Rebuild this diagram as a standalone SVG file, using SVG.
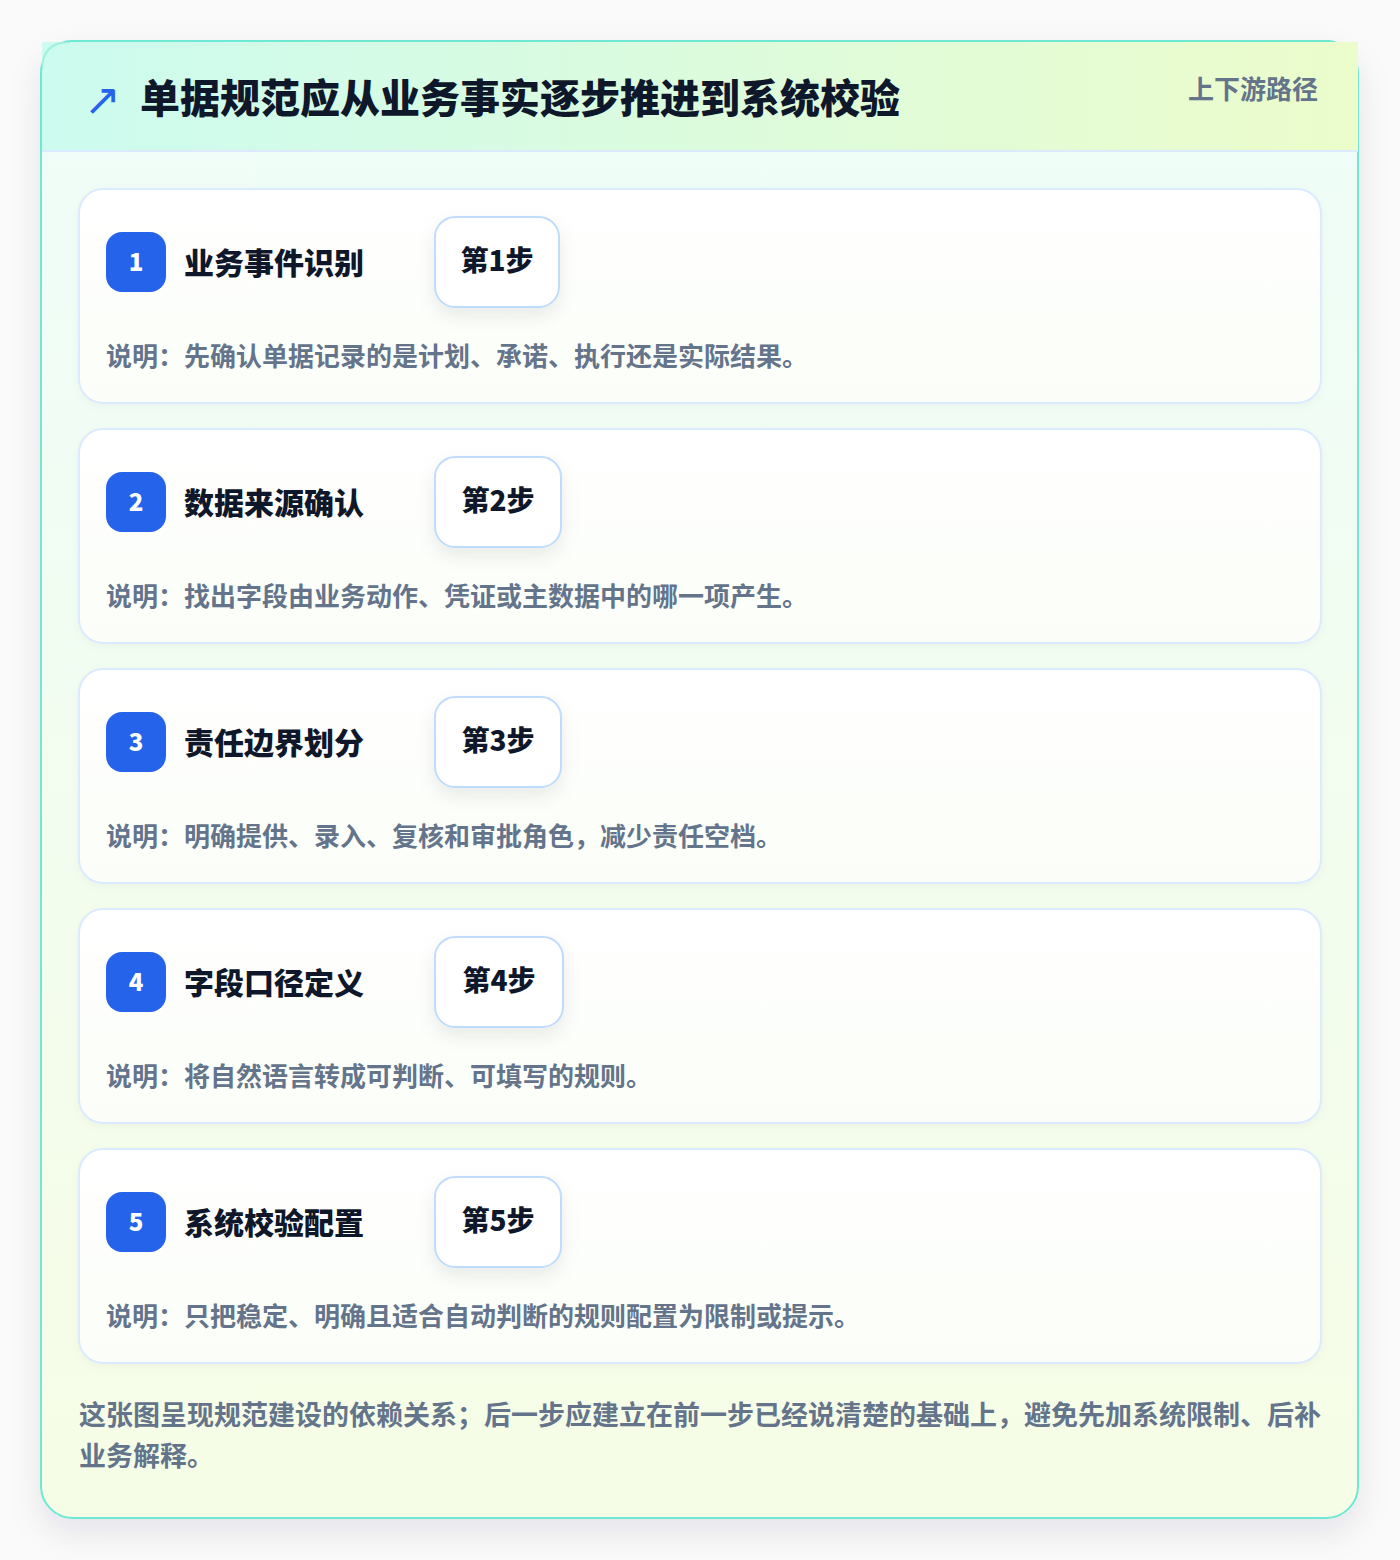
<svg xmlns="http://www.w3.org/2000/svg" width="1400" height="1560" viewBox="0 0 1400 1560">
  <defs>
    <linearGradient id="hdrGrad" x1="0" y1="0" x2="1" y2="0">
      <stop offset="0" stop-color="#ccfbef"/>
      <stop offset="1" stop-color="#ecfccb"/>
    </linearGradient>
    <linearGradient id="bodyGrad" x1="0" y1="0" x2="0" y2="1">
      <stop offset="0" stop-color="#effdf9"/>
      <stop offset="1" stop-color="#f6fde6"/>
    </linearGradient>
    <linearGradient id="cardGrad" x1="0" y1="0" x2="0" y2="1">
      <stop offset="0" stop-color="#ffffff"/>
      <stop offset="1" stop-color="#fbfef8"/>
    </linearGradient>
    <filter id="outerShadow" x="-10%" y="-10%" width="120%" height="120%">
      <feDropShadow dx="0" dy="14" stdDeviation="16" flood-color="#0f172a" flood-opacity="0.09"/>
    </filter>
    <filter id="pillShadow" x="-30%" y="-30%" width="160%" height="170%">
      <feDropShadow dx="0" dy="8" stdDeviation="9" flood-color="#0f172a" flood-opacity="0.08"/>
    </filter>
    <filter id="cardShadow" x="-5%" y="-10%" width="110%" height="130%">
      <feDropShadow dx="0" dy="3" stdDeviation="4" flood-color="#0f172a" flood-opacity="0.03"/>
    </filter>
  </defs>
  <style>
    .cjk { font-family: 'Noto Sans CJK SC', 'Noto Sans', 'Liberation Sans', sans-serif; font-weight: 700; }
    .heavy { font-weight: 800; }
    .title { font-size: 40px; fill: #0f172a; }
    .tag { font-size: 26px; fill: #64748b; }
    .card { fill: url(#cardGrad); stroke: #dbeafe; stroke-width: 2; }
    .badge { fill: #2563eb; }
    .num { font-size: 24px; fill: #ffffff; text-anchor: middle; }
    .ctitle { font-size: 30px; fill: #0f172a; }
    .pill { fill: #ffffff; stroke: #bfdbfe; stroke-width: 2; }
    .step { font-size: 28px; fill: #0f172a; text-anchor: middle; }
    .desc { font-size: 26px; fill: #64748b; }
    .foot { font-size: 27px; fill: #64748b; }
  </style>

  <rect x="0" y="0" width="1400" height="1560" fill="#fafafa"/>

  <g id="frame">
    <rect x="41" y="41" width="1317" height="1477" rx="32" fill="url(#bodyGrad)" stroke="#6ee7d3" stroke-width="2" filter="url(#outerShadow)"/>
    <rect x="42" y="42" width="1316" height="109" fill="url(#hdrGrad)"/>
    <line x1="42" y1="151" x2="1358" y2="151" stroke="#dbeafe" stroke-width="2"/>
    <path d="M42 70 Q42 42 70 42" fill="none" stroke="#6ee7d3" stroke-width="2" opacity="0.5"/>
    <line x1="70" y1="41" x2="1330" y2="41" stroke="#6ee7d3" stroke-width="2"/>
  </g>

  <g id="header">
    <text x="84" y="115" font-family="'DejaVu Sans', sans-serif" font-size="44" fill="#2563eb">↗</text>
    <text class="cjk heavy title" x="140" y="113">单据规范应从业务事实逐步推进到系统校验</text>
    <text class="cjk tag" x="1188" y="99">上下游路径</text>
  </g>

  <g id="connectors"></g>

  <g id="step1">
    <rect class="card" x="79" y="189" width="1242" height="214" rx="24" filter="url(#cardShadow)"/>
    <rect class="badge" x="106" y="232" width="60" height="60" rx="16"/>
    <text class="cjk heavy num" x="136" y="271">1</text>
    <text class="cjk heavy ctitle" x="184" y="274">业务事件识别</text>
    <rect class="pill" x="435" y="217" width="124" height="90" rx="20" filter="url(#pillShadow)"/>
    <text class="cjk heavy step" x="497" y="271">第1步</text>
    <text class="cjk desc" x="106" y="366">说明：先确认单据记录的是计划、承诺、执行还是实际结果。</text>
  </g>

  <g id="step2">
    <rect class="card" x="79" y="429" width="1242" height="214" rx="24" filter="url(#cardShadow)"/>
    <rect class="badge" x="106" y="472" width="60" height="60" rx="16"/>
    <text class="cjk heavy num" x="136" y="511">2</text>
    <text class="cjk heavy ctitle" x="184" y="514">数据来源确认</text>
    <rect class="pill" x="435" y="457" width="126" height="90" rx="20" filter="url(#pillShadow)"/>
    <text class="cjk heavy step" x="498" y="511">第2步</text>
    <text class="cjk desc" x="106" y="606">说明：找出字段由业务动作、凭证或主数据中的哪一项产生。</text>
  </g>

  <g id="step3">
    <rect class="card" x="79" y="669" width="1242" height="214" rx="24" filter="url(#cardShadow)"/>
    <rect class="badge" x="106" y="712" width="60" height="60" rx="16"/>
    <text class="cjk heavy num" x="136" y="751">3</text>
    <text class="cjk heavy ctitle" x="184" y="754">责任边界划分</text>
    <rect class="pill" x="435" y="697" width="126" height="90" rx="20" filter="url(#pillShadow)"/>
    <text class="cjk heavy step" x="498" y="751">第3步</text>
    <text class="cjk desc" x="106" y="846">说明：明确提供、录入、复核和审批角色，减少责任空档。</text>
  </g>

  <g id="step4">
    <rect class="card" x="79" y="909" width="1242" height="214" rx="24" filter="url(#cardShadow)"/>
    <rect class="badge" x="106" y="952" width="60" height="60" rx="16"/>
    <text class="cjk heavy num" x="136" y="991">4</text>
    <text class="cjk heavy ctitle" x="184" y="994">字段口径定义</text>
    <rect class="pill" x="435" y="937" width="128" height="90" rx="20" filter="url(#pillShadow)"/>
    <text class="cjk heavy step" x="499" y="991">第4步</text>
    <text class="cjk desc" x="106" y="1086">说明：将自然语言转成可判断、可填写的规则。</text>
  </g>

  <g id="step5">
    <rect class="card" x="79" y="1149" width="1242" height="214" rx="24" filter="url(#cardShadow)"/>
    <rect class="badge" x="106" y="1192" width="60" height="60" rx="16"/>
    <text class="cjk heavy num" x="136" y="1231">5</text>
    <text class="cjk heavy ctitle" x="184" y="1234">系统校验配置</text>
    <rect class="pill" x="435" y="1177" width="126" height="90" rx="20" filter="url(#pillShadow)"/>
    <text class="cjk heavy step" x="498" y="1231">第5步</text>
    <text class="cjk desc" x="106" y="1326">说明：只把稳定、明确且适合自动判断的规则配置为限制或提示。</text>
  </g>

  <g id="footer">
    <text class="cjk foot" x="79" y="1425">这张图呈现规范建设的依赖关系；后一步应建立在前一步已经说清楚的基础上，避免先加系统限制、后补</text>
    <text class="cjk foot" x="79" y="1466">业务解释。</text>
  </g>
</svg>
